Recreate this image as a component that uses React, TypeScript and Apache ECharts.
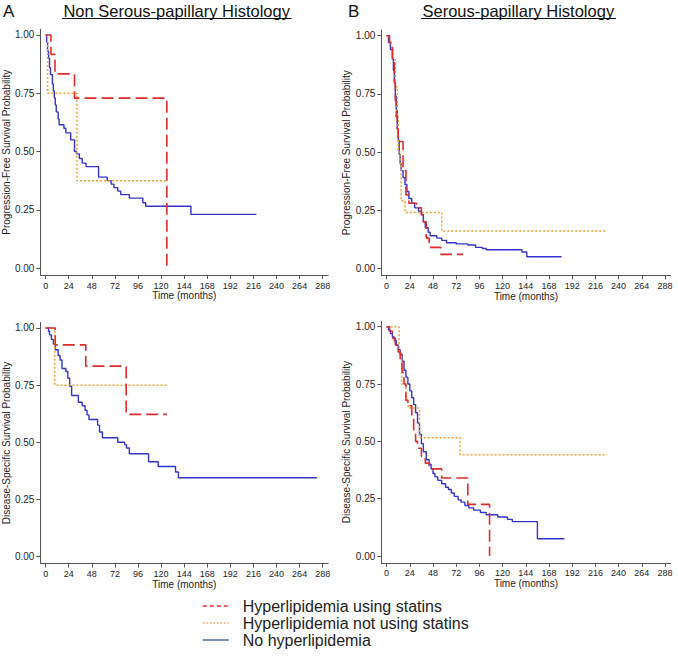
import React, { useEffect, useRef } from "react";
import * as echarts from "echarts";

// ---------- data (time in months, survival probability) ----------
const X_TICKS = [0, 24, 48, 72, 96, 120, 144, 168, 192, 216, 240, 264, 288];
const Y_TICKS = [0, 0.25, 0.5, 0.75, 1];

const SERIES_NAMES = [
  "Hyperlipidemia using statins",
  "Hyperlipidemia not using statins",
  "No hyperlipidemia",
];

// Panel A top: Non serous-papillary, progression-free survival
const pfsNonSerousStatins = [[0, 1], [5.5, 0.917], [9.7, 0.833], [30, 0.729], [126, 0]];
const pfsNonSerousNoStatins = [[0, 1], [2, 0.75], [32.5, 0.375], [126, 0.375]];
const pfsNonSerousNone = [
  [0, 1], [1, 0.97], [2, 0.93], [3, 0.9], [4, 0.86], [5, 0.83], [7, 0.79], [8, 0.76],
  [9, 0.73], [10, 0.7], [11, 0.67], [13, 0.64], [14, 0.615], [19, 0.6], [21, 0.58],
  [26, 0.55], [30, 0.5], [32, 0.49], [35, 0.47], [38, 0.45], [42, 0.435], [55, 0.39],
  [64, 0.375], [68, 0.36], [71, 0.345], [75, 0.33], [78, 0.315], [87, 0.3], [101, 0.28],
  [104, 0.265], [151, 0.23], [219, 0.23],
];

// Panel B top: Serous-papillary, progression-free survival
const pfsSerousStatins = [
  [0, 1], [3, 0.97], [6, 0.9], [8, 0.8], [9, 0.72], [10, 0.65], [11, 0.6], [12, 0.545],
  [17, 0.42], [20, 0.315], [23, 0.28], [31, 0.26], [36, 0.23], [38, 0.2], [41, 0.13],
  [44, 0.09], [56, 0.06], [79, 0.06],
];
const pfsSerousNoStatins = [
  [0, 1], [3, 0.95], [7, 0.9], [9, 0.78], [11, 0.65], [12, 0.5], [14, 0.45], [15, 0.29],
  [19, 0.24], [57, 0.16], [228, 0.16],
];
const pfsSerousNone = [
  [0, 1], [2, 0.97], [4, 0.94], [6, 0.9], [7, 0.85], [8, 0.8], [9, 0.74], [10, 0.68],
  [11, 0.6], [12, 0.55], [13, 0.49], [14, 0.45], [15, 0.42], [17, 0.39], [19, 0.36],
  [21, 0.33], [23, 0.3], [26, 0.28], [29, 0.26], [33, 0.245], [36, 0.23], [38, 0.2],
  [40, 0.175], [43, 0.155], [45, 0.14], [52, 0.13], [57, 0.12], [62, 0.11], [72, 0.105],
  [84, 0.1], [92, 0.09], [99, 0.085], [103, 0.08], [140, 0.07], [145, 0.05], [181, 0.05],
];

// Panel A bottom: Non serous-papillary, disease-specific survival
const dssNonSerousStatins = [[0, 1], [10, 0.926], [41.7, 0.833], [83.7, 0.622], [126, 0.622]];
const dssNonSerousNoStatins = [[0, 1], [9.5, 0.75], [126, 0.75]];
const dssNonSerousNone = [
  [0, 1], [3, 0.985], [4, 0.97], [6, 0.95], [8, 0.93], [10, 0.905], [13, 0.88], [15, 0.86],
  [17, 0.823], [21, 0.81], [23, 0.78], [25, 0.745], [27, 0.705], [34, 0.675], [38, 0.66],
  [41, 0.64], [43, 0.62], [45, 0.6], [54, 0.575], [56, 0.545], [59, 0.52], [75, 0.5],
  [82, 0.49], [84, 0.475], [87, 0.45], [107, 0.415], [117, 0.394], [135, 0.37],
  [138, 0.345], [282, 0.345],
];

// Panel B bottom: Serous-papillary, disease-specific survival
const dssSerousStatins = [
  [0, 1], [3, 0.98], [6, 0.95], [9, 0.92], [12, 0.89], [14, 0.85], [16, 0.8], [18, 0.75],
  [20, 0.68], [22, 0.655], [26, 0.6], [28, 0.55], [30, 0.5], [32, 0.47], [36, 0.435],
  [40, 0.405], [44, 0.38], [57, 0.34], [84, 0.225], [106.5, 0],
];
const dssSerousNoStatins = [
  [0, 1], [13, 0.884], [15.5, 0.75], [20, 0.67], [22.5, 0.645], [34, 0.516], [76, 0.442],
  [228, 0.442],
];
const dssSerousNone = [
  [0, 1], [2, 0.985], [4, 0.97], [6, 0.955], [8, 0.94], [10, 0.92], [12, 0.9], [14, 0.88],
  [16, 0.85], [18, 0.81], [20, 0.78], [22, 0.75], [24, 0.72], [26, 0.69], [28, 0.66],
  [30, 0.625], [32, 0.58], [34, 0.53], [36, 0.49], [38, 0.455], [41, 0.42], [44, 0.4],
  [46, 0.38], [48, 0.36], [50, 0.345], [53, 0.33], [57, 0.315], [61, 0.3], [64, 0.29],
  [67, 0.275], [70, 0.26], [74, 0.245], [77, 0.235], [81, 0.22], [85, 0.21], [90, 0.2],
  [97, 0.19], [103, 0.18], [115, 0.17], [125, 0.16], [130, 0.15], [156, 0.075], [184, 0.075],
];

const Y_NAMES = [
  "Progression-Free Survival Probability",
  "Progression-Free Survival Probability",
  "Disease-Specific Survival Probability",
  "Disease-Specific Survival Probability",
];
const X_NAME = "Time (months)";

// ---------- styling / layout ----------
const FONT = '"Liberation Sans", Arial, sans-serif';
const TEXT = "#222";
const AXIS = "#555";
const STYLES = [
  { color: "#e02b2b", type: [12, 5], width: 1.6 },
  { color: "#f0a030", type: [2, 2], width: 1.5 },
  { color: "#3434cc", type: "solid", width: 1.4 },
];

const GRIDS = [
  { left: 39, top: 29.4, width: 289.3, height: 245.6 },
  { left: 381.3, top: 30.1, width: 289.3, height: 245.2 },
  { left: 39, top: 322.5, width: 289.3, height: 241 },
  { left: 381.3, top: 321.2, width: 289.3, height: 241.7 },
];

const PANELS = [
  [pfsNonSerousStatins, pfsNonSerousNoStatins, pfsNonSerousNone],
  [pfsSerousStatins, pfsSerousNoStatins, pfsSerousNone],
  [dssNonSerousStatins, dssNonSerousNoStatins, dssNonSerousNone],
  [dssSerousStatins, dssSerousNoStatins, dssSerousNone],
];

export default function App() {
  const ref = useRef<HTMLDivElement>(null);

  useEffect(() => {
    if (!ref.current) return;
    const chart = echarts.init(ref.current, undefined, { renderer: "svg" });

    const xAxis = GRIDS.map((_, i) => ({
      type: "value",
      gridIndex: i,
      min: -5.5,
      max: 293.8,
      name: X_NAME,
      nameLocation: "middle",
      nameGap: 15,
      nameTextStyle: { fontFamily: FONT, fontSize: 10, color: TEXT },
      axisLine: { show: true, onZero: false, lineStyle: { color: AXIS, width: 1 } },
      axisTick: { show: true, length: 4, customValues: X_TICKS, lineStyle: { color: AXIS } },
      axisLabel: {
        customValues: X_TICKS,
        margin: 6,
        fontFamily: FONT,
        fontSize: 9,
        color: TEXT,
      },
      splitLine: { show: false },
    }));

    const yAxis = GRIDS.map((_, i) => ({
      type: "value",
      gridIndex: i,
      min: -0.03,
      max: 1.024,
      name: Y_NAMES[i],
      nameLocation: "middle",
      nameGap: 26,
      nameTextStyle: { fontFamily: FONT, fontSize: 10, color: TEXT },
      axisLine: { show: true, onZero: false, lineStyle: { color: AXIS, width: 1 } },
      axisTick: { show: true, length: 4, customValues: Y_TICKS, lineStyle: { color: AXIS } },
      axisLabel: {
        customValues: Y_TICKS,
        margin: 6,
        fontFamily: FONT,
        fontSize: 10,
        color: TEXT,
        formatter: (v: number) => v.toFixed(2),
      },
      splitLine: { show: false },
    }));

    const series: any[] = [];
    PANELS.forEach((panel, gi) => {
      // draw blue first, red on top
      [2, 1, 0].forEach((k) => {
        series.push({
          type: "line",
          name: SERIES_NAMES[k],
          xAxisIndex: gi,
          yAxisIndex: gi,
          step: "end",
          symbol: "none",
          showSymbol: false,
          data: panel[k],
          lineStyle: { ...STYLES[k] },
          itemStyle: { color: STYLES[k].color },
          emphasis: { disabled: true },
        });
      });
    });

    const legendStyles = [
      { color: "#e03030", type: [4, 3], width: 1.5 },
      { color: "#f2b27a", type: [2, 1.5], width: 1.5 },
      { color: "#4a6aa8", type: "solid", width: 1.5 },
    ];

    chart.setOption({
      animation: false,
      backgroundColor: "#fff",
      grid: GRIDS.map((g) => ({ ...g, containLabel: false })),
      xAxis,
      yAxis,
      series,
      legend: {
        orient: "vertical",
        left: 197,
        top: 593,
        itemWidth: 26,
        itemHeight: 12,
        itemGap: 1,
        selectedMode: false,
        data: SERIES_NAMES.map((n, i) => ({
          name: n,
          lineStyle: legendStyles[i],
          itemStyle: { color: legendStyles[i].color, opacity: 0, borderWidth: 0 },
        })),
        formatter: (name: string) => "{s|}" + name,
        textStyle: {
          fontFamily: FONT,
          fontSize: 16,
          lineHeight: 16,
          color: TEXT,
          rich: { s: { width: 9 } },
        },
      },
      graphic: [
        {
          type: "text",
          x: 3,
          y: 11,
          style: { text: "A", font: `17px ${FONT}`, fill: "#111", verticalAlign: "middle" },
        },
        {
          type: "text",
          x: 176.7,
          y: 11,
          style: {
            text: "Non Serous-papillary Histology",
            font: `16.5px ${FONT}`,
            fill: "#111",
            align: "center",
            verticalAlign: "middle",
          },
        },
        {
          type: "line",
          shape: { x1: 62, y1: 18.5, x2: 291.5, y2: 18.5 },
          style: { stroke: "#111", lineWidth: 1 },
        },
        {
          type: "text",
          x: 348,
          y: 11,
          style: { text: "B", font: `17px ${FONT}`, fill: "#111", verticalAlign: "middle" },
        },
        {
          type: "text",
          x: 518.3,
          y: 11,
          style: {
            text: "Serous-papillary Histology",
            font: `16.5px ${FONT}`,
            fill: "#111",
            align: "center",
            verticalAlign: "middle",
          },
        },
        {
          type: "line",
          shape: { x1: 421, y1: 18.5, x2: 616, y2: 18.5 },
          style: { stroke: "#111", lineWidth: 1 },
        },
      ],
    });

    return () => chart.dispose();
  }, []);

  return (
    <div
      ref={ref}
      style={{ position: "absolute", left: 0, top: 0, width: 678, height: 672 }}
    />
  );
}
